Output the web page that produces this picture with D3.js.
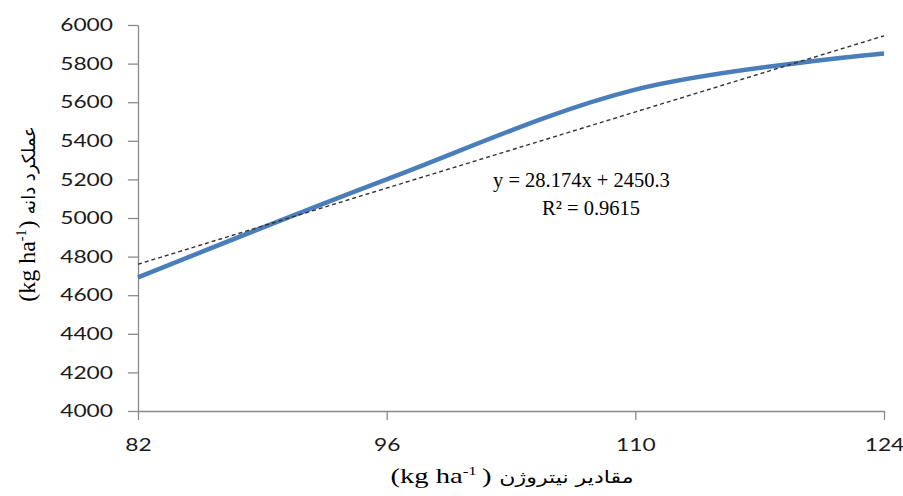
<!DOCTYPE html>
<html>
<head>
<meta charset="utf-8">
<script src="https://cdn.jsdelivr.net/npm/d3@7"></script>
<style>
  html, body { margin: 0; padding: 0; background: #fff; }
  svg { display: block; }
</style>
</head>
<body>
<svg id="chart" width="903" height="496"></svg>
<script>
// ---- data ----
const nitrogen = [82, 96, 110, 124];
const yieldValues = [4692, 5200, 5665, 5852];
const yTickValues = [4000, 4200, 4400, 4600, 4800, 5000, 5200, 5400, 5600, 5800, 6000];
const xTickValues = [82, 96, 110, 124];
const equationLines = ["y = 28.174x + 2450.3", "R² = 0.9615"];
const unitMain = "(kg ha";
const unitSup = "-1";
const yTitleArabic = "عملکرد دانه";
const xTitleArabic = "مقادیر نیتروژن";

(function () {
// ---- layout ----
const plotLeft = 138, plotRight = 884, plotTop = 25, plotBottom = 411;
const svg = d3.select("#chart");

const x = d3.scaleLinear().domain([82, 124]).range([plotLeft, plotRight]);
const y = d3.scaleLinear().domain([4000, 6000]).range([plotBottom, plotTop]);

const axisColor = "#8a8a8a";
const textColor = "#1a1a1a";
const serif = "'Liberation Serif', 'Times New Roman', serif";
const arabic = "'DejaVu Sans', sans-serif";

// Y axis
const gy = svg.append("g")
  .attr("transform", `translate(${plotLeft},0)`)
  .call(d3.axisLeft(y).tickValues(yTickValues).tickSize(10).tickSizeOuter(0).tickPadding(15).tickFormat(d3.format("d")));
gy.select(".domain").attr("stroke", axisColor).attr("stroke-width", 1.3);
gy.selectAll(".tick line").attr("stroke", axisColor).attr("stroke-width", 1.3);
gy.selectAll(".tick text")
  .attr("fill", textColor)
  .attr("font-family", "Lato")
  .attr("font-size", 18)
  .attr("textLength", d => String(d).length * 13.2)
  .attr("lengthAdjust", "spacingAndGlyphs");

// X axis
const gx = svg.append("g")
  .attr("transform", `translate(0,${plotBottom})`)
  .call(d3.axisBottom(x).tickValues(xTickValues).tickSize(9).tickSizeOuter(0).tickPadding(18).tickFormat(d3.format("d")));
gx.select(".domain").attr("stroke", axisColor).attr("stroke-width", 1.3);
gx.selectAll(".tick line").attr("stroke", axisColor).attr("stroke-width", 1.3);
gx.selectAll(".tick text")
  .attr("fill", textColor)
  .attr("font-family", "Lato")
  .attr("font-size", 18)
  .attr("textLength", d => String(d).length * 13.2)
  .attr("lengthAdjust", "spacingAndGlyphs");

// Linear regression trendline from data
const mx = d3.mean(nitrogen), my = d3.mean(yieldValues);
const slope = d3.sum(nitrogen.map((v, i) => (v - mx) * (yieldValues[i] - my))) /
              d3.sum(nitrogen.map(v => (v - mx) * (v - mx)));
const intercept = my - slope * mx;
const trendX = [d3.min(nitrogen), d3.max(nitrogen)];

// data line (smoothed)
const line = d3.line()
  .x((d, i) => x(nitrogen[i]))
  .y(d => y(d))
  .curve(d3.curveCatmullRom.alpha(0.5));

svg.append("path")
  .datum(yieldValues)
  .attr("d", line)
  .attr("fill", "none")
  .attr("stroke", "#4a7ebb")
  .attr("stroke-width", 4.5)
  .attr("stroke-linecap", "butt");

svg.append("line")
  .attr("x1", x(trendX[0])).attr("y1", y(slope * trendX[0] + intercept))
  .attr("x2", x(trendX[1])).attr("y2", y(slope * trendX[1] + intercept))
  .attr("stroke", "#333")
  .attr("stroke-width", 1.4)
  .attr("stroke-dasharray", "4,3");

// equation labels
svg.append("text")
  .attr("x", 493).attr("y", 187)
  .attr("fill", "#000")
  .attr("font-family", serif).attr("font-size", 20.5)
  .text(equationLines[0]);
svg.append("text")
  .attr("x", 542).attr("y", 215)
  .attr("fill", "#000")
  .attr("font-family", serif).attr("font-size", 20.5)
  .text(equationLines[1]);

// Build a title out of separate pieces laid out left-to-right, then centre it
function buildTitle(parent, pieces) {
  let cx = 0;
  const nodes = [];
  pieces.forEach(p => {
    const t = parent.append("text")
      .attr("x", cx)
      .attr("y", p.dy || 0)
      .attr("fill", "#000")
      .attr("font-family", p.font)
      .attr("font-size", p.size)
      .text(p.text);
    nodes.push(t);
    cx += t.node().getComputedTextLength() + (p.gap || 0);
  });
  nodes.forEach(t => t.attr("x", +t.attr("x") - cx / 2));
}

// Y axis title (rotated)
const ytg = svg.append("g").attr("transform", "translate(35,214) rotate(-90)");
buildTitle(ytg, [
  { text: unitMain, font: serif, size: 24 },
  { text: unitSup, font: serif, size: 14, dy: -9, gap: 1 },
  { text: ")", font: serif, size: 24, gap: 6 },
  { text: yTitleArabic, font: arabic, size: 18 }
]);

// X axis title (stretched horizontally like the reference)
const xtg = svg.append("g").attr("transform", "translate(512,483) scale(1.3,1)");
buildTitle(xtg, [
  { text: unitMain, font: serif, size: 22 },
  { text: unitSup, font: serif, size: 13, dy: -8, gap: 4 },
  { text: ")", font: serif, size: 22, gap: 6 },
  { text: xTitleArabic, font: arabic, size: 17 }
]);
})();
</script>
</body>
</html>
